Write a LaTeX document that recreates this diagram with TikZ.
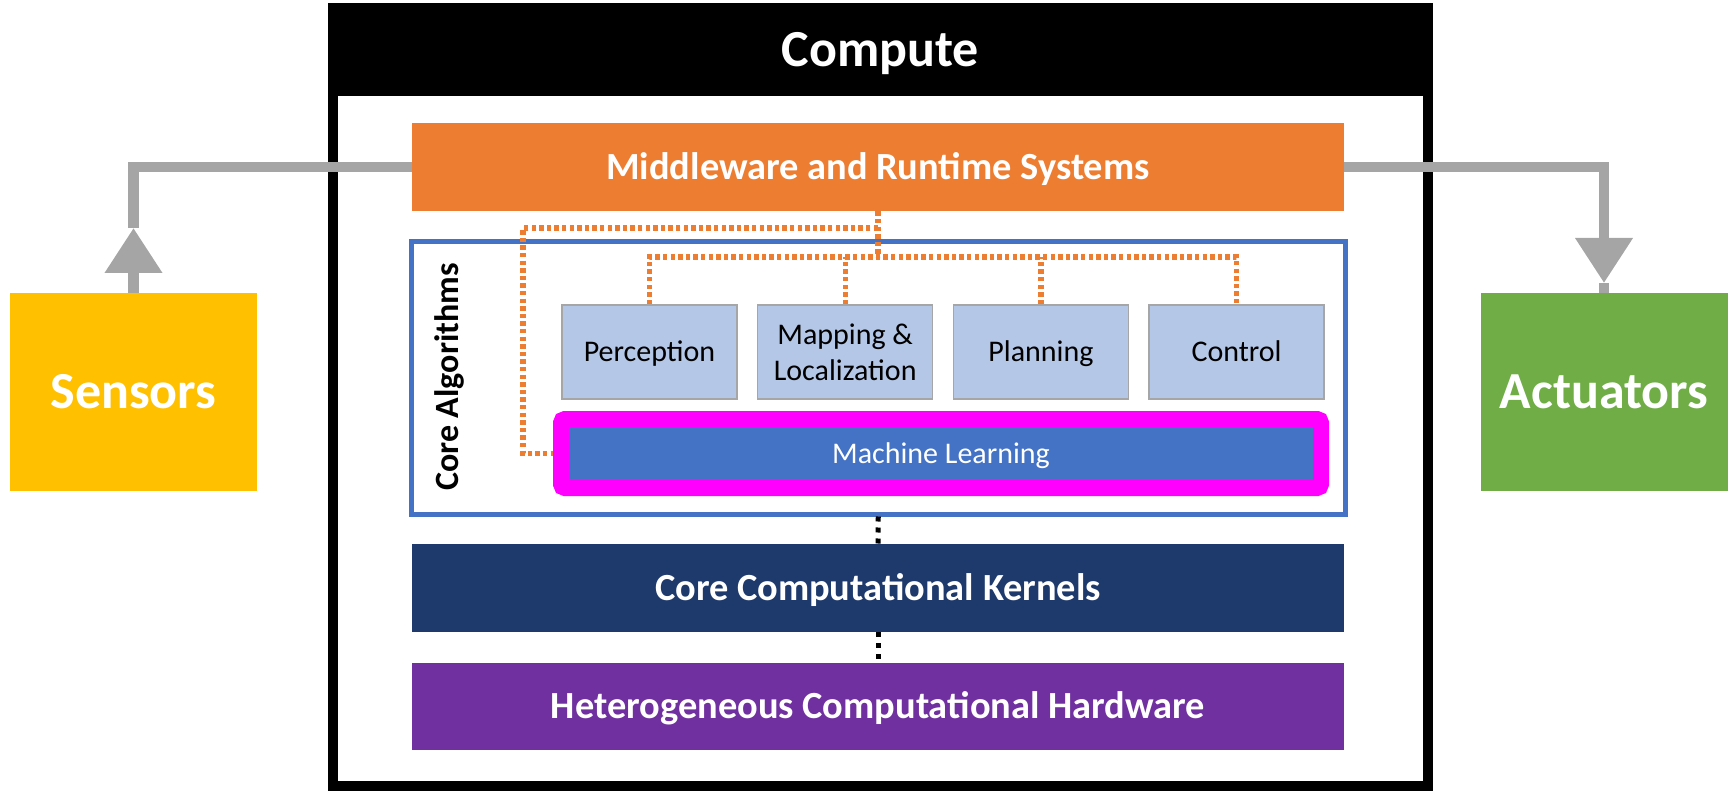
\documentclass[tikz,border=0pt]{standalone}
\usepackage{fontspec}
\setmainfont{Carlito}
\usetikzlibrary{positioning, arrows.meta, calc}

\definecolor{mworange}{HTML}{ED7D31}
\definecolor{sensyellow}{HTML}{FFC000}
\definecolor{actgreen}{HTML}{70AD47}
\definecolor{coreblue}{HTML}{4472C4}
\definecolor{algfill}{HTML}{B4C7E7}
\definecolor{algedge}{HTML}{A6A6A6}
\definecolor{kernblue}{HTML}{1E3A6C}
\definecolor{hwpurple}{HTML}{7030A0}
\definecolor{feedgray}{HTML}{A5A5A5}
\definecolor{mlpink}{HTML}{FF00FF}

\tikzset{
	capsmid/.style={text height=#1, text depth=0pt},
	layer/.style={capsmid=12.4pt, inner sep=0pt, minimum width=466pt, minimum height=44pt, text=white, font=\bfseries\fontsize{19.2}{22}\selectfont},
	algbox/.style={fill=algfill, draw=algedge, line width=0.75pt, inner sep=0pt, minimum width=87.5pt, minimum height=47pt, align=center, font=\fontsize{15}{18}\selectfont},
	iobox/.style={capsmid=16.7pt, inner sep=0pt, minimum width=123.5pt, minimum height=99pt, text=white, font=\bfseries\fontsize{26}{30}\selectfont},
	feed/.style={draw=feedgray, line width=5.25pt},
	odots/.style={draw=mworange, line width=2.6pt, dash pattern=on 2.2pt off 1.6pt},
	kdots/.style={draw=black, line width=2.5pt, dash pattern=on 2.5pt off 3pt},
	bigtip/.style={-{Triangle[width=27.5pt, length=22.5pt]}}
}

\begin{document}
\begin{tikzpicture}[x=0.5pt, y=-0.5pt]
	\useasboundingbox (0,0) rectangle (1729,791);
	% compute frame with its title bar
	\draw[line width=5pt] (333,8) rectangle (1428,786);
	\node[capsmid=16.7pt, fill=black, text=white, inner sep=0pt, minimum width=552.5pt, minimum height=46.5pt, font=\bfseries\fontsize{26}{30}\selectfont] (compute) at (880.5,49.5) {Compute};

	\node[layer, fill=mworange] (mw) at (878,167) {Middleware and Runtime Systems};
	\node[draw=coreblue, line width=2.5pt, minimum width=466.75pt, minimum height=136.25pt] (core) at (878.25,377.75) {};
	\node[rotate=90, font=\bfseries\fontsize{17}{20}\selectfont] (corelbl) at (449,377) {Core Algorithms};

	\node[algbox, capsmid=9.7pt] (perc) at (649.5,352) {Perception};
	\node[algbox, right=9.6pt of perc] (map) {Mapping \&\\Localization};
	\node[algbox, capsmid=9.7pt, right=9.6pt of map] (plan) {Planning};
	\node[algbox, capsmid=9.7pt, right=9.6pt of plan] (ctrl) {Control};
	\node[capsmid=9.7pt, fill=coreblue, draw=mlpink, line width=8pt, rounded corners=2pt, inner sep=0pt, minimum width=380pt, minimum height=34.5pt, text=white, font=\fontsize{15}{18}\selectfont] (ml) at (941,453.5) {Machine Learning};

	\node[layer, fill=kernblue] (kern) at (878,588) {Core Computational Kernels};
	\node[layer, fill=hwpurple, minimum height=43.5pt] (hw) at (878,706.5) {Heterogeneous Computational Hardware};

	\node[iobox, fill=sensyellow] (sensors) at (133.5,392) {Sensors};
	\node[iobox, fill=actgreen] (actuators) at (1604,392) {Actuators};

	% gray feed lines in and out of the compute box
	\coordinate (stip) at (133.5,228);
	\coordinate (atip) at (1604,283);
	\draw[feed, bigtip] (sensors.north) -- (stip);
	\draw[feed] (stip) |- (mw.west);
	\draw[feed, bigtip] (mw.east) -| (atip);
	\draw[feed] (atip) -- (actuators.north);

	% orange dotted links from the middleware
	\coordinate (bus) at (878,257);
	\coordinate (loop) at (523,228);
	\draw[odots] (mw.south) -- (bus);
	\draw[odots] (mw.south |- loop) -| (loop |- ml.west) -- (ml.west);
	\draw[odots] (perc.north) |- (bus) -| (ctrl.north);
	\foreach \n in {map, plan}{
		\draw[odots] (\n.north) -- (\n.north |- bus);
	}

	\draw[kdots] (core.south) -- (kern.north);
	\draw[kdots] (kern.south) -- (hw.north);
\end{tikzpicture}
\end{document}
